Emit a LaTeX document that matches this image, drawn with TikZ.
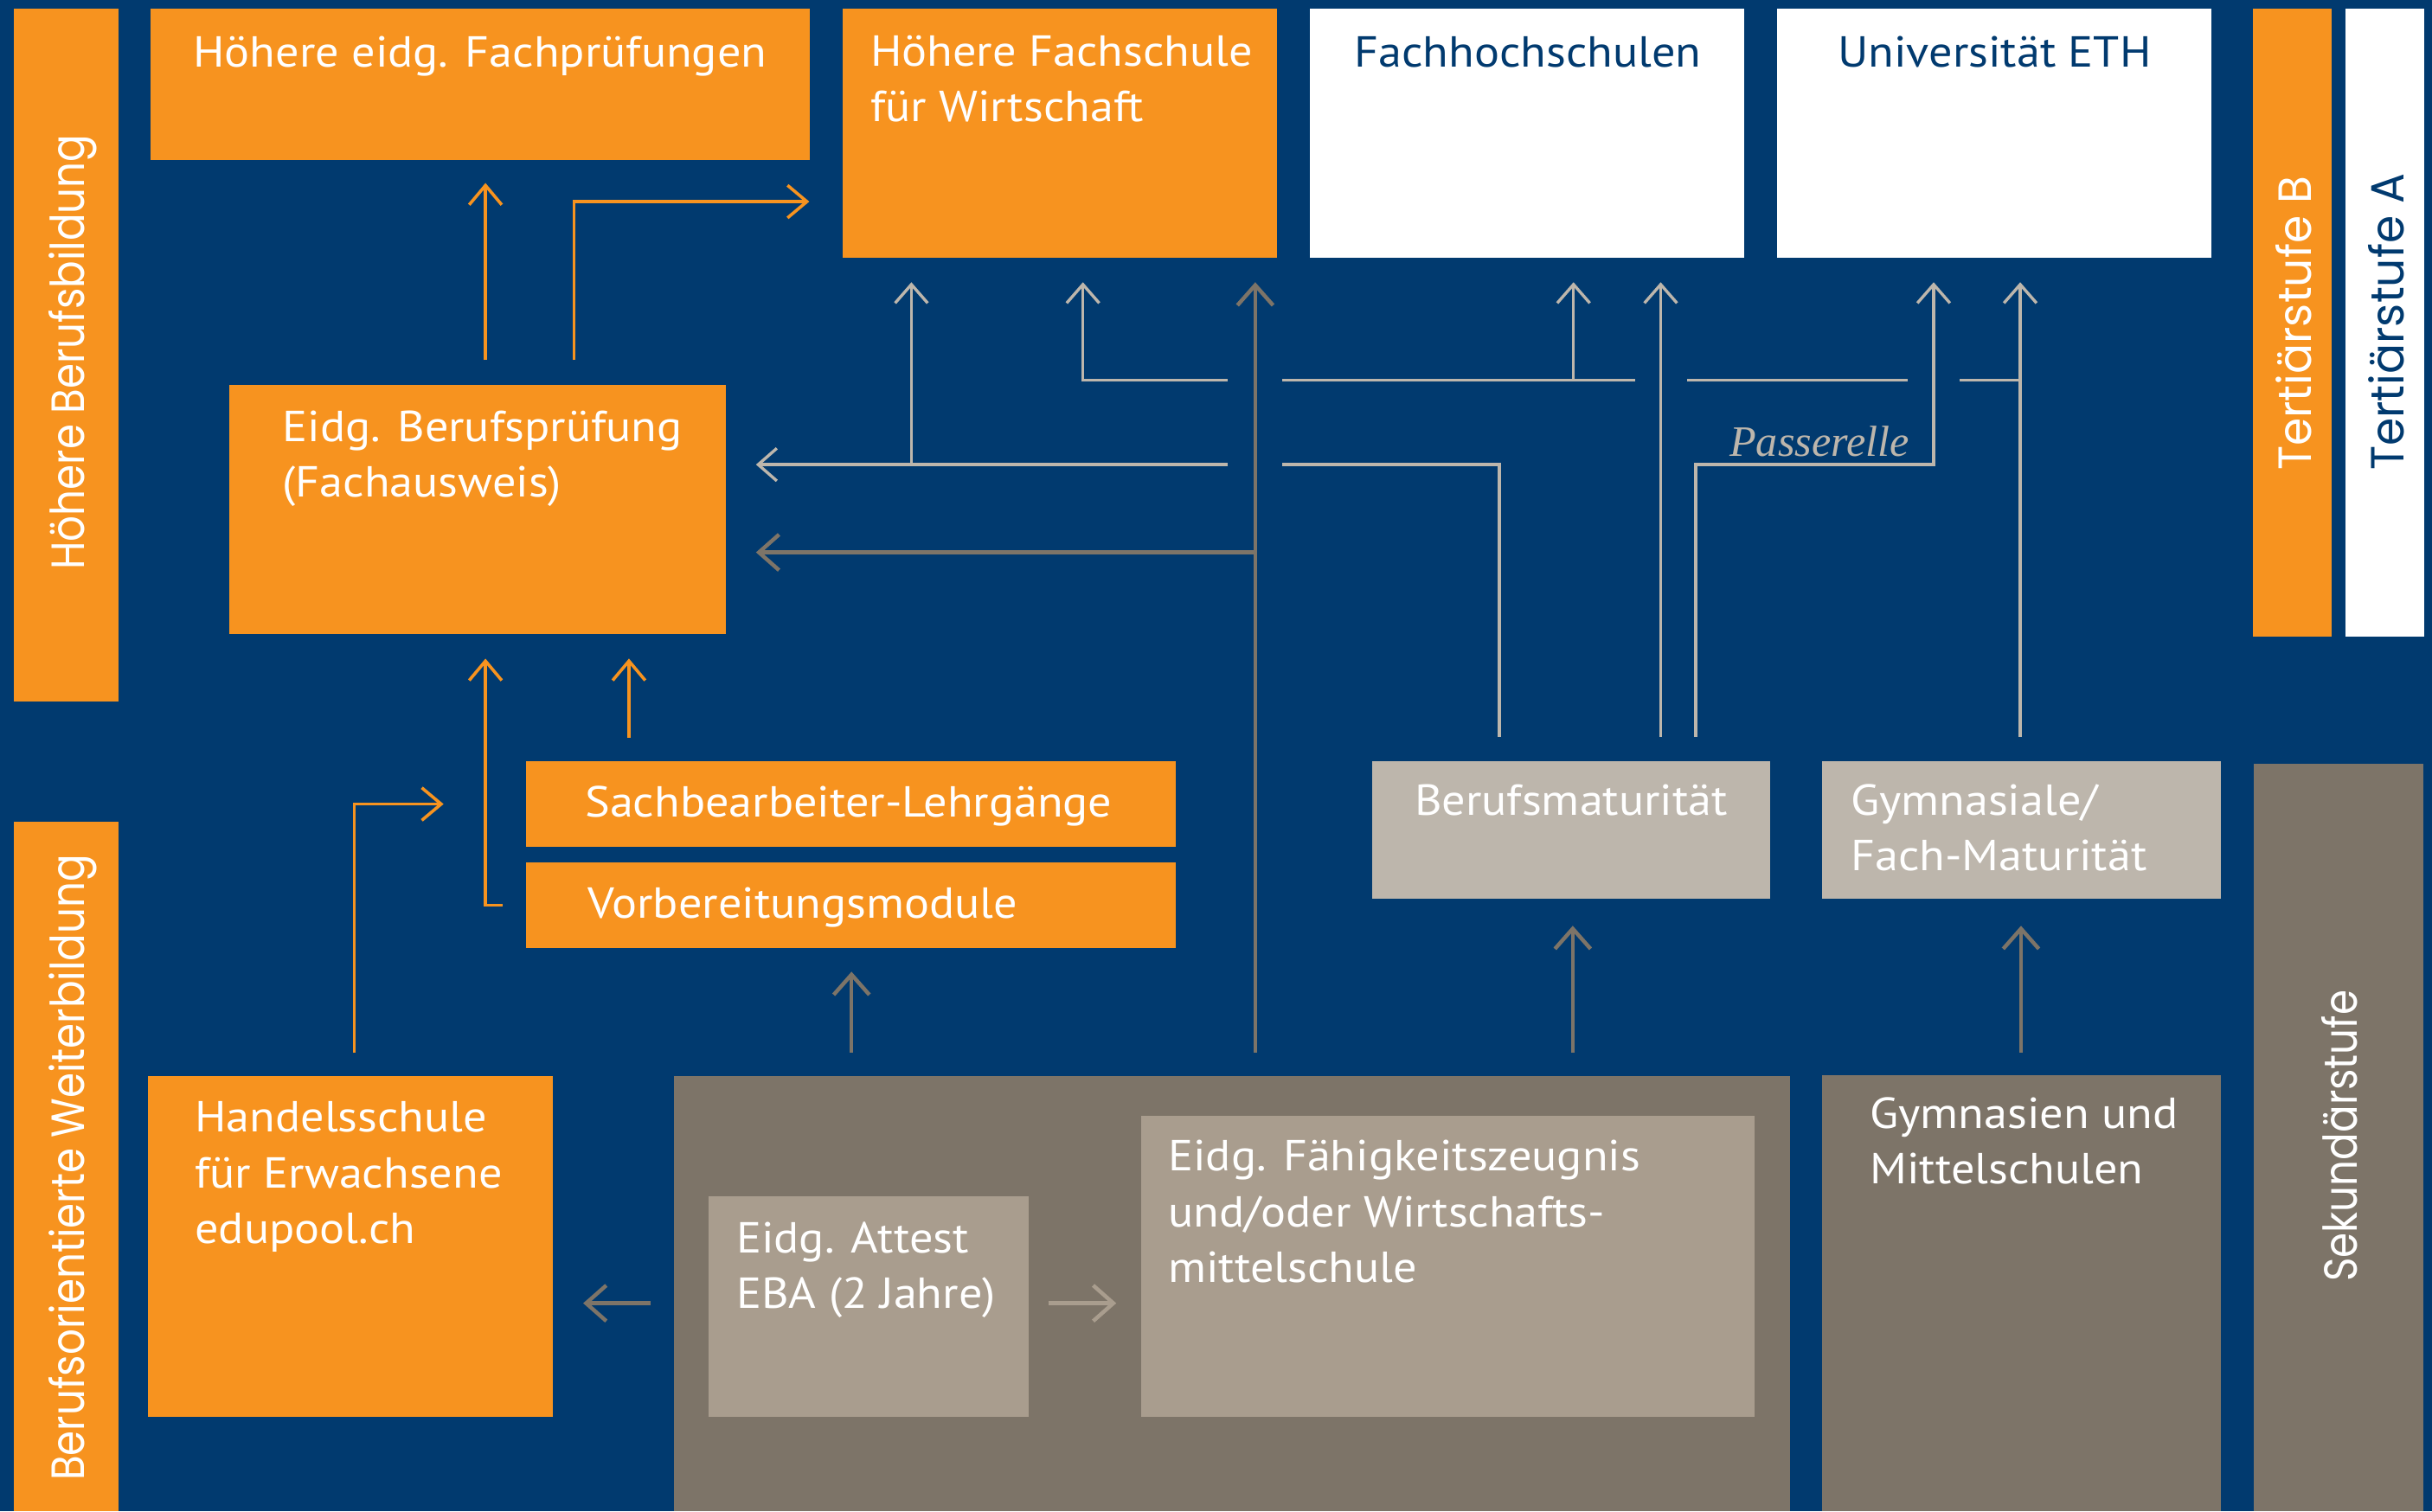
\documentclass[tikz,border=0pt]{standalone}
\usepackage{fontspec}
\setmainfont{PT Sans}[FakeStretch=1.08]
\newfontfamily\rotfont{Poppins}[FakeStretch=0.87]
\newfontfamily\rotfontw{Poppins}[FakeStretch=0.965]
\newfontfamily\passfont{Liberation Serif}
\usetikzlibrary{arrows.meta}
\definecolor{bgblue}{HTML}{013A6F}
\definecolor{eorange}{HTML}{F7931F}
\definecolor{lgrey}{HTML}{BDB6AC}
\definecolor{dtaupe}{HTML}{7D7468}
\definecolor{mtaupe}{HTML}{A99D8E}
\newcommand{\mlines}[1]{\begin{tabular}[t]{@{}l@{}}#1\end{tabular}}
\tikzset{
  box/.style={fill=#1, draw=none, inner sep=0pt, outer sep=0pt, anchor=north west},
  txt/.style={anchor=base west, inner sep=0pt, text=white, font=\fontsize{28}{36}\selectfont},
  ctxt/.style={txt, anchor=base},
  rtxt/.style={anchor=base west, inner sep=0pt, rotate=90, text=white, font=\rotfont\fontsize{30}{36}\selectfont},
  rtxtw/.style={rtxt, font=\rotfontw\fontsize{30}{36}\selectfont},
  lline/.style={draw=lgrey, line width=1.9pt},
  larr/.style={lline, -{Straight Barb[length=12pt,width=21pt]}},
  darr/.style={draw=dtaupe, line width=2.5pt, -{Straight Barb[length=13pt,width=23pt]}},
  oarr/.style={draw=eorange, line width=2pt, -{Straight Barb[length=12.5pt,width=21pt]}},
}
\begin{document}
\begin{tikzpicture}[x=1pt,y=-1pt]
\fill[bgblue] (0,0) rectangle (1568,974.5);
\useasboundingbox (0,0) rectangle (1568,974.5);

% boxes
\node[box=eorange, minimum width=67.6pt, minimum height=446.5pt] (hbb) at (8.9,5.8) {};
\node[box=eorange, minimum width=67.3pt, minimum height=444.7pt] (bow) at (8.9,529.8) {};
\node[box=eorange, minimum width=424.7pt, minimum height=97.2pt] (hef) at (97.2,5.8) {};
\node[box=eorange, minimum width=280pt, minimum height=160.2pt] (hfw) at (543.3,5.8) {};
\node[box=white, minimum width=280.2pt, minimum height=160.2pt] (fh) at (844.4,5.8) {};
\node[box=white, minimum width=280.2pt, minimum height=160.2pt] (uni) at (1145.8,5.8) {};
\node[box=eorange, minimum width=50.6pt, minimum height=405pt] (tsb) at (1452.4,5.8) {};
\node[box=white, minimum width=50.5pt, minimum height=405pt] (tsa) at (1512.3,5.8) {};
\node[box=eorange, minimum width=320pt, minimum height=160.4pt] (ebp) at (148,248.3) {};
\node[box=eorange, minimum width=419pt, minimum height=55.6pt] (sbl) at (339,490.7) {};
\node[box=eorange, minimum width=419pt, minimum height=55.6pt] (vbm) at (339,556) {};
\node[box=lgrey, minimum width=256.8pt, minimum height=88.6pt] (bm) at (884.5,490.7) {};
\node[box=lgrey, minimum width=257pt, minimum height=88.6pt] (gfm) at (1175,490.7) {};
\node[box=dtaupe, minimum width=109.5pt, minimum height=482.1pt] (sek) at (1453,492.4) {};
\node[box=eorange, minimum width=261pt, minimum height=219.6pt] (hse) at (95.6,693.9) {};
\node[box=dtaupe, minimum width=719.7pt, minimum height=280.5pt] (bbase) at (434.3,694) {};
\node[box=mtaupe, minimum width=206.7pt, minimum height=142.2pt] (eba) at (456.7,771.3) {};
\node[box=mtaupe, minimum width=395.8pt, minimum height=194pt] (efz) at (735.5,719.5) {};
\node[box=dtaupe, minimum width=257pt, minimum height=281.3pt] (gym) at (1175,693.2) {};

% texts
\node[ctxt] (hef-t) at (309.5,43) {Höhere eidg. Fachprüfungen};
\node[txt] (hfw-t) at (561,42.4) {\mlines{Höhere Fachschule\\für Wirtschaft}};
\node[ctxt, text=bgblue] (fh-t) at (985,43) {Fachhochschulen};
\node[ctxt, text=bgblue] (uni-t) at (1286,43) {Universität ETH};
\node[txt] (ebp-t) at (182,284.5) {\mlines{Eidg. Berufsprüfung\\(Fachausweis)}};
\node[txt] (sbl-t) at (377,527) {Sachbearbeiter-Lehrgänge};
\node[txt] (vbm-t) at (379,592) {Vorbereitungsmodule};
\node[ctxt] (bm-t) at (1013,525.5) {Berufsmaturität};
\node[txt] (gfm-t) at (1193,525.5) {\mlines{Gymnasiale/\\Fach-Maturität}};
\node[txt] (hse-t) at (125.5,730) {\mlines{Handelsschule\\für Erwachsene\\edupool.ch}};
\node[txt] (eba-t) at (474.6,807.7) {\mlines{Eidg. Attest\\EBA (2 Jahre)}};
\node[txt] (efz-t) at (753,755) {\mlines{Eidg. Fähigkeitszeugnis\\und/oder Wirtschafts-\\mittelschule}};
\node[txt] (gym-t) at (1205.5,727.6) {\mlines{Gymnasien und\\Mittelschulen}};

\node[rtxt] (hbb-t) at (54.5,367.6) {Höhere Berufsbildung};
\node[rtxt] (bow-t) at (54.5,955) {Berufsorientierte Weiterbildung};
\node[rtxtw] (tsb-t) at (1490,303.5) {Tertiärstufe B};
\node[rtxtw, text=bgblue] (tsa-t) at (1549.6,303.5) {Tertiärstufe A};
\node[rtxt] (sek-t) at (1519.5,826.7) {Sekundärstufe};
\node[anchor=base west, inner sep=0pt, text=lgrey, font=\passfont\itshape\fontsize{28}{34}\selectfont] (pass-t) at (1115,294) {Passerelle};

% coordinates
\coordinate (xo1) at (313,0);
\coordinate (c1) at (370,130);
\coordinate (xo3) at (405.5,0);
\coordinate (c2) at (228.5,518.5);
\coordinate (bmA) at (966.7,299.6);
\coordinate (g1r) at (826.7,299.6);
\coordinate (g1l) at (791.5,299.6);
\coordinate (br1) at (587.6,299.6);
\coordinate (gA) at (1302.5,245.2);
\coordinate (s1a) at (1263.5,245.2);
\coordinate (s2a) at (1230,245.2);
\coordinate (s2b) at (1087.5,245.2);
\coordinate (s3a) at (1054.3,245.2);
\coordinate (s3b) at (826.7,245.2);
\coordinate (s4a) at (791.5,245.2);
\coordinate (s4b) at (698.2,245.2);
\coordinate (br2) at (1014.5,245.2);
\coordinate (xB) at (1070.7,0);
\coordinate (pA) at (1093.3,299.6);
\coordinate (pB) at (1246.7,299.6);
\coordinate (dA) at (809.3,356.2);
\coordinate (xC) at (549,0);
\coordinate (xD) at (1014,0);
\coordinate (xE) at (1303,0);
\coordinate (yE) at (0,840.4);

% orange connectors
\draw[oarr, shorten <=16pt, shorten >=15pt] (ebp.north -| xo1) -- (hef.south -| xo1);
\draw[oarr, shorten <=16pt, shorten >=21.5pt] (ebp.north -| c1) -- (c1) -- (hfw.west |- c1);
\draw[oarr, shorten <=15pt, shorten >=16pt] (vbm.west) -- (vbm.west -| xo1) -- (ebp.south -| xo1);
\draw[oarr, shorten <=15pt, shorten >=16pt] (sbl.north -| xo3) -- (ebp.south -| xo3);
\draw[oarr, shorten <=15pt, shorten >=53pt] (hse.north -| c2) -- (c2) -- (sbl.west |- c2);

% light grey connectors
\draw[lline, shorten <=15.4pt] (bm.north -| bmA) -- (bmA) -- (g1r);
\draw[larr, shorten >=19.4pt] (g1l) -- (ebp.east |- g1l);
\draw[larr, shorten >=16pt] (br1) -- (hfw.south -| br1);
\draw[larr, shorten <=15.4pt, shorten >=16pt] (gfm.north -| gA) -- (uni.south -| gA);
\draw[lline] (gA) -- (s1a);
\draw[lline] (s2a) -- (s2b);
\draw[lline] (s3a) -- (s3b);
\draw[larr, shorten >=16pt] (s4a) -- (s4b) -- (hfw.south -| s4b);
\draw[larr, shorten >=16pt] (br2) -- (fh.south -| br2);
\draw[larr, shorten <=15.4pt, shorten >=16pt] (bm.north -| xB) -- (fh.south -| xB);
\draw[larr, shorten <=15.4pt, shorten >=16pt] (bm.north -| pA) -- (pA) -- (pB) -- (uni.south -| pB);

% dark connectors
\draw[darr, shorten <=15.3pt, shorten >=16pt] (bbase.north -| dA) -- (hfw.south -| dA);
\draw[darr, shorten >=19.4pt] (dA) -- (ebp.east |- dA);
\draw[darr, shorten <=15.3pt, shorten >=15pt] (bbase.north -| xC) -- (vbm.south -| xC);
\draw[darr, shorten <=15.3pt, shorten >=17.7pt] (bbase.north -| xD) -- (bm.south -| xD);
\draw[darr, shorten <=14.5pt, shorten >=17.7pt] (gym.north -| xE) -- (gfm.south -| xE);
\draw[darr, shorten <=15pt, shorten >=19.4pt] (bbase.west |- yE) -- (hse.east |- yE);
\draw[darr, draw=mtaupe, shorten <=12.5pt, shorten >=15.8pt] (eba.east |- yE) -- (efz.west |- yE);
\end{tikzpicture}
\end{document}
